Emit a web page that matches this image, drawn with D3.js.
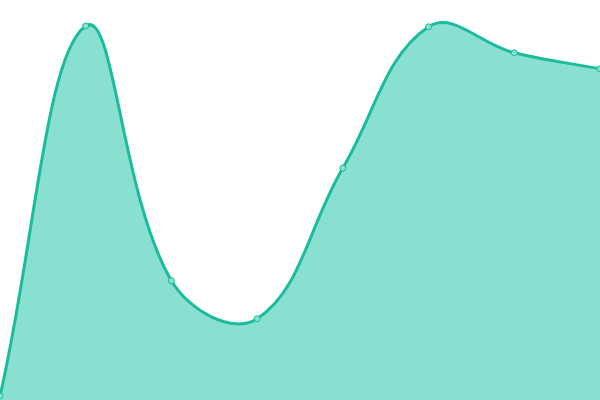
<!DOCTYPE html>
<html><head><meta charset="utf-8">
<script src="https://cdn.jsdelivr.net/npm/d3@7"></script>
<style>html,body{margin:0;padding:0;background:#fff;overflow:hidden}</style>
</head><body>
<svg id="c" width="600" height="400"></svg>
<script>
const categories = [0, 1, 2, 3, 4, 5, 6, 7];
const values = [1, 93.5, 29.8, 20.3, 58, 93.3, 86.8, 82.8];

const W = 600, H = 400;
const svg = d3.select("#c");
const x = d3.scalePoint().domain(categories).range([0, W]);
const y = d3.scaleLinear().domain([0, 100]).range([H, 0]);
const pts = categories.map((c, i) => [x(c), y(values[i])]);

// Spline with tension 0.4 (distance-weighted control points)
function splinePath(p, t) {
  const n = p.length;
  const cps = p.map((p1, i) => {
    const p0 = p[Math.max(0, i - 1)], p2 = p[Math.min(n - 1, i + 1)];
    const d01 = Math.hypot(p1[0] - p0[0], p1[1] - p0[1]);
    const d12 = Math.hypot(p2[0] - p1[0], p2[1] - p1[1]);
    let s01 = d01 / (d01 + d12), s12 = d12 / (d01 + d12);
    if (!isFinite(s01)) s01 = 0; if (!isFinite(s12)) s12 = 0;
    const fa = t * s01, fb = t * s12;
    return {
      prev: [p1[0] - fa * (p2[0] - p0[0]), p1[1] - fa * (p2[1] - p0[1])],
      next: [p1[0] + fb * (p2[0] - p0[0]), p1[1] + fb * (p2[1] - p0[1])]
    };
  });
  const path = d3.path();
  path.moveTo(p[0][0], p[0][1]);
  for (let i = 1; i < n; i++) {
    const a = cps[i - 1].next, b = cps[i].prev;
    path.bezierCurveTo(a[0], a[1], b[0], b[1], p[i][0], p[i][1]);
  }
  return path.toString();
}
const lineD = splinePath(pts, 0.4);

svg.append("path")
  .attr("fill", "#8ae0d0")
  .attr("d", lineD + `L${pts[pts.length-1][0]},${H}L${pts[0][0]},${H}Z`);
svg.append("path")
  .attr("fill", "none").attr("stroke", "#1abc9c").attr("stroke-width", 3)
  .attr("d", lineD);
svg.selectAll("circle").data(pts).join("circle")
  .attr("cx", d => d[0]).attr("cy", d => d[1]).attr("r", 3)
  .attr("fill", "#8ae0d0").attr("stroke", "#1abc9c").attr("stroke-width", 1);
</script>
</body></html>
